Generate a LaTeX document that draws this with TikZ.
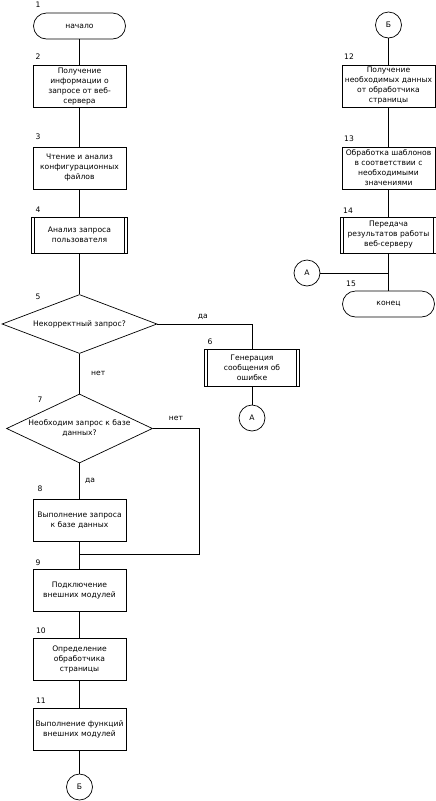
\documentclass[tikz,border=0pt]{standalone}
\usepackage{fontspec}
\setmainfont{DejaVu Sans}
\usepackage{tikz}
\usetikzlibrary{shapes.geometric}
\usetikzlibrary{calc}

\begin{document}
\begin{tikzpicture}[x=1pt,y=-1pt,-,line width=0.7pt,font=\fontsize{7.6}{10}\selectfont]
  \tikzstyle{blk}=[draw, rectangle, align=center, minimum width=93pt, minimum height=42pt, inner sep=0pt]
  \tikzstyle{sub}=[blk, minimum width=96pt, minimum height=36pt,
    path picture={\draw ([xshift=3pt]path picture bounding box.north west) -- ([xshift=3pt]path picture bounding box.south west)
                        ([xshift=-3pt]path picture bounding box.north east) -- ([xshift=-3pt]path picture bounding box.south east);}]
  \tikzstyle{term}=[draw, rectangle, rounded corners=13pt, minimum width=92pt, minimum height=26pt]
  \tikzstyle{dec}=[draw, diamond, align=center, inner sep=0pt]
  \tikzstyle{con}=[draw, circle, minimum size=26pt, inner sep=0pt]
  \tikzstyle{num}=[inner sep=0pt]
  \useasboundingbox (0,0) rectangle (436,801);

  % left column
  \node[term] (s1) at (79.5,26) {начало};
  \node[blk] (b2) at (79.5,86.5) {Получение\\информации о\\запросе от веб-\\сервера};
  \node[blk] (b3) at (79.5,168) {Чтение и анализ\\конфигурационных\\файлов};
  \node[sub] (b4) at (79.5,235) {Анализ запроса\\пользователя};
  \node[dec, minimum width=155pt, minimum height=59pt, aspect=2.6] (d5) at (79.5,324) {Некорректный запрос?};
  \node[sub, minimum width=95pt, minimum height=37pt] (b6) at (252,368) {Генерация\\сообщения об\\ошибке};
  \node[con] (A1) at (252,418) {А};
  \node[dec, minimum width=146pt, minimum height=69pt, aspect=2.1] (d7) at (79.5,428.5) {Необходим запрос к базе\\данных?};
  \node[blk] (b8) at (79.5,520) {Выполнение запроса\\к базе данных};
  \node[blk] (b9) at (79.5,590.5) {Подключение\\внешних модулей};
  \node[blk] (b10) at (79.5,659.5) {Определение\\обработчика\\страницы};
  \node[blk] (b11) at (79.5,729) {Выполнение функций\\внешних модулей};
  \node[con] (B1) at (79.5,787) {Б};

  % right column
  \node[con] (B2) at (388.5,25) {Б};
  \node[blk] (b12) at (388.5,86) {Получение\\необходимых данных\\от обработчика\\страницы};
  \node[blk] (b13) at (388.5,168) {Обработка шаблонов\\в соответствии с\\необходимыми\\значениями};
  \node[sub] (b14) at (388.5,235) {Передача\\результатов работы\\веб-серверу};
  \node[con] (A2) at (307,273) {А};
  \node[term] (t15) at (388.5,304) {конец};

  % step numbers
  \node[num] (n1) at (38,5) {1};
  \node[num] (n2) at (38,57) {2};
  \node[num] (n3) at (38,137) {3};
  \node[num] (n4) at (38,210) {4};
  \node[num] (n5) at (38,297) {5};
  \node[num] (n6) at (210,342) {6};
  \node[num] (n7) at (40,400) {7};
  \node[num] (n8) at (40,489) {8};
  \node[num] (n9) at (38,563) {9};
  \node[num] (n10) at (41,631) {10};
  \node[num] (n11) at (41,701) {11};
  \node[num] (n12) at (349,57) {12};
  \node[num] (n13) at (349,139) {13};
  \node[num] (n14) at (348,211) {14};
  \node[num] (n15) at (351,284) {15};

  \coordinate (j) at (79.5,554);
  \coordinate (jr) at (199,554);
  \coordinate (k) at (388.5,273);

  \path
    (s1) edge (b2)
    (b2) edge (b3)
    (b3) edge (b4)
    (b4) edge (d5)
    (b6) edge (A1)
    (b8) edge (b9)
    (b9) edge (b10)
    (b10) edge (b11)
    (b11) edge (B1)
    (B2) edge (b12)
    (b12) edge (b13)
    (b13) edge (b14)
    (b14) edge (t15)
    (A2) edge (k);

  \draw (d5.east) -| node[pos=0.24, above=1pt] {да} (b6.north);
  \draw (d5.south) -- node[midway, right=8pt] {нет} (d7.north);
  \draw (d7.south) -- node[midway, right=2pt] {да} (b8.north);
  \draw (d7.east) -| node[pos=0.25, above=4pt] {нет} (jr) -- (j);
\end{tikzpicture}
\end{document}
